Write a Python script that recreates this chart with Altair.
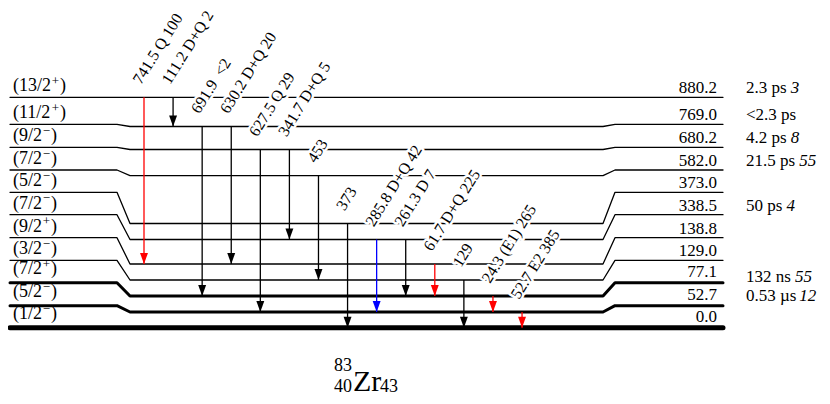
import altair as alt
import pandas as pd

# ---------------- data ----------------
energies = [880.2, 769.0, 680.2, 582.0, 373.0, 338.5, 138.8, 129.0, 77.1, 52.7, 0.0]
spin_j = ["13/2", "11/2", "9/2", "7/2", "5/2", "7/2", "9/2", "3/2", "7/2", "5/2", "1/2"]
spin_p = ["+", "+", "\u2212", "\u2212", "\u2212", "\u2212", "+", "\u2212", "+", "\u2212", "\u2212"]
halflife = ["2.3 ps", "<2.3 ps", "4.2 ps", "21.5 ps", "", "50 ps", "", "", "132 ns", "0.53 \u00b5s", ""]
halflife_unc = ["3", "", "8", "55", "", "4", "", "", "55", "12", ""]

gamma_text = ["741.5 Q 100", "111.2 D+Q 2", "691.9\u2002<2", "630.2 D+Q 20", "627.5 Q 29",
              "341.7 D+Q 5", "453", "373", "285.8 D+Q 42", "261.3 D 7", "61.7 D+Q 225",
              "129", "24.3 (E1) 265", "52.7 E2 385"]
gamma_from = [880.2, 880.2, 769.0, 769.0, 680.2, 680.2, 582.0, 373.0, 338.5, 338.5, 138.8, 129.0, 77.1, 52.7]
gamma_to = [138.8, 769.0, 77.1, 138.8, 52.7, 338.5, 129.0, 0.0, 52.7, 77.1, 77.1, 0.0, 52.7, 0.0]

# ---------------- layout / style ----------------
gamma_color = ["#ff0000", "black", "black", "black", "black", "black", "black", "black",
               "#0000ff", "black", "#ff0000", "black", "#ff0000", "#ff0000"]
side_y = [97.3, 124.3, 147.3, 170.0, 192.3, 214.7, 237.7, 260.3, 282.7, 305.7, 327.7]
mid_y = [97.3, 126.5, 149.5, 175.7, 223.5, 239.5, 264.0, 280.0, 296.0, 312.0, 327.7]
level_w = [1.3] * 8 + [3.0, 3.0, 5.0]
LEVEL_X = [10, 117, 130, 603, 615, 723]
COL0, COLSTEP = 144, 29.08
hl_y = [93, 120, 143, 166, 0, 211, 0, 0, 282, 301, 0]

SERIF = "Liberation Serif"
W, H = 814, 388
xs = alt.Scale(domain=[8, 8 + W], nice=False, zero=False)
ys = alt.Scale(domain=[8, 8 + H], nice=False, zero=False, reverse=True)

# Times-like advance widths (per 1000 em) for placing text pieces
TW = {c: 500 for c in "0123456789"}
TW.update({".": 250, " ": 250, "p": 500, "s": 389, "n": 500, "<": 564, "\u00b5": 500,
           "(": 333, ")": 333, "/": 278, "+": 564, "\u2212": 564})


def text_width(s, size):
    return sum(TW.get(c, 500) for c in s) * size / 1000.0


# ---------------- tables ----------------
rows = []
for i, e in enumerate(energies):
    ypts = [side_y[i], side_y[i], mid_y[i], mid_y[i], side_y[i], side_y[i]]
    for k, (x, y) in enumerate(zip(LEVEL_X, ypts)):
        rows.append(dict(level=i, k=k, x=x, y=y, w=level_w[i]))
lev_df = pd.DataFrame(rows)

ypos = {e: mid_y[i] for i, e in enumerate(energies)}
g_df = pd.DataFrame(dict(
    text=gamma_text,
    x=[COL0 + COLSTEP * i for i in range(len(gamma_text))],
    y1=[ypos[e] for e in gamma_from],
    y2=[ypos[e] for e in gamma_to],
    col=gamma_color,
))
g_df["lx"] = g_df["x"] - 3
g_df["ly"] = g_df["y1"] - 12

SPIN_FS, SIGN_FS, SPIN_X = 18, 13, 13
sp_rows = []
for i in range(len(energies)):
    by = side_y[i] - (6 if level_w[i] < 2 else 8.5)
    main = "(" + spin_j[i]
    w1 = text_width(main, SPIN_FS)
    w2 = text_width(spin_p[i], SIGN_FS)
    sp_rows.append(dict(t=main, x=SPIN_X, y=by, fs=SPIN_FS))
    sp_rows.append(dict(t=spin_p[i], x=SPIN_X + w1 + 0.8, y=by - 6.5, fs=SIGN_FS))
    sp_rows.append(dict(t=")", x=SPIN_X + w1 + w2 + 1.6, y=by, fs=SPIN_FS))
sp_df = pd.DataFrame(sp_rows)

en_df = pd.DataFrame(dict(
    en=[f"{e:.1f}" for e in energies],
    ey=[side_y[i] - (4 if level_w[i] < 2 else 6) for i in range(len(energies))],
))

hl_rows = []
for i in range(len(energies)):
    if halflife[i]:
        hl_rows.append(dict(t=halflife[i], x=746, y=hl_y[i], it=False))
        if halflife_unc[i]:
            hl_rows.append(dict(t=halflife_unc[i], x=746 + text_width(halflife[i] + " ", 17),
                                y=hl_y[i], it=True))
hl_df = pd.DataFrame(hl_rows)

title_df = pd.DataFrame(dict(
    t=["Zr", "83", "40", "43"],
    x=[353, 352, 352, 380],
    y=[391, 371, 392, 392],
    s=[30, 18, 18, 18],
    a=["left", "right", "right", "left"],
))

X = lambda f: alt.X(f, scale=xs, axis=None)
Y = lambda f: alt.Y(f, scale=ys, axis=None)

layers = []
for wv in sorted(set(level_w)):
    layers.append(
        alt.Chart(lev_df[lev_df["w"] == wv]).mark_line(
            color="black", strokeWidth=wv, strokeCap="round", strokeJoin="round"
        ).encode(x=X("x:Q"), y=Y("y:Q"), detail="level:N", order="k:Q")
    )

shafts = alt.Chart(g_df).mark_rule(strokeWidth=1.3).encode(
    x=X("x:Q"), y=Y("y1:Q"), y2="y2:Q", color=alt.Color("col:N", scale=None)
)
heads = alt.Chart(g_df).mark_point(
    shape="M-0.36,-1L0.36,-1L0,0Z", size=484, filled=True, opacity=1
).encode(x=X("x:Q"), y=Y("y2:Q"), color=alt.Color("col:N", scale=None))

GFS = 16
halo = alt.Chart(g_df).mark_text(
    font=SERIF, fontSize=GFS, angle=302, align="left", baseline="alphabetic",
    color="white", stroke="white", strokeWidth=5, strokeJoin="round"
).encode(x=X("lx:Q"), y=Y("ly:Q"), text="text:N")
glabels = alt.Chart(g_df).mark_text(
    font=SERIF, fontSize=GFS, angle=302, align="left", baseline="alphabetic", color="black"
).encode(x=X("lx:Q"), y=Y("ly:Q"), text="text:N")

spin_t = alt.Chart(sp_df).mark_text(
    font=SERIF, align="left", baseline="alphabetic", color="black"
).encode(x=X("x:Q"), y=Y("y:Q"), text="t:N", size=alt.Size("fs:Q", scale=None))
en_t = alt.Chart(en_df).mark_text(
    font=SERIF, fontSize=17, align="right", baseline="alphabetic", color="black"
).encode(x=alt.value(717 - 8), y=Y("ey:Q"), text="en:N")

hl_n = alt.Chart(hl_df[~hl_df["it"]]).mark_text(
    font=SERIF, fontSize=17, align="left", baseline="alphabetic", color="black"
).encode(x=X("x:Q"), y=Y("y:Q"), text="t:N")
hl_i = alt.Chart(hl_df[hl_df["it"]]).mark_text(
    font=SERIF, fontSize=17, fontStyle="italic", align="left", baseline="alphabetic", color="black"
).encode(x=X("x:Q"), y=Y("y:Q"), text="t:N")

title_l = alt.Chart(title_df[title_df["a"] == "left"]).mark_text(
    font=SERIF, baseline="alphabetic", align="left", color="black"
).encode(x=X("x:Q"), y=Y("y:Q"), text="t:N", size=alt.Size("s:Q", scale=None))
title_r = alt.Chart(title_df[title_df["a"] == "right"]).mark_text(
    font=SERIF, baseline="alphabetic", align="right", color="black"
).encode(x=X("x:Q"), y=Y("y:Q"), text="t:N", size=alt.Size("s:Q", scale=None))

chart = alt.layer(
    *layers, shafts, heads, halo, glabels, spin_t, en_t, hl_n, hl_i, title_l, title_r
).properties(
    width=W, height=H, padding=0, autosize=alt.AutoSizeParams(type="none"),
    background="white"
).configure_view(stroke=None)

chart.save("out.html", embed_options={"renderer": "svg", "actions": False})
